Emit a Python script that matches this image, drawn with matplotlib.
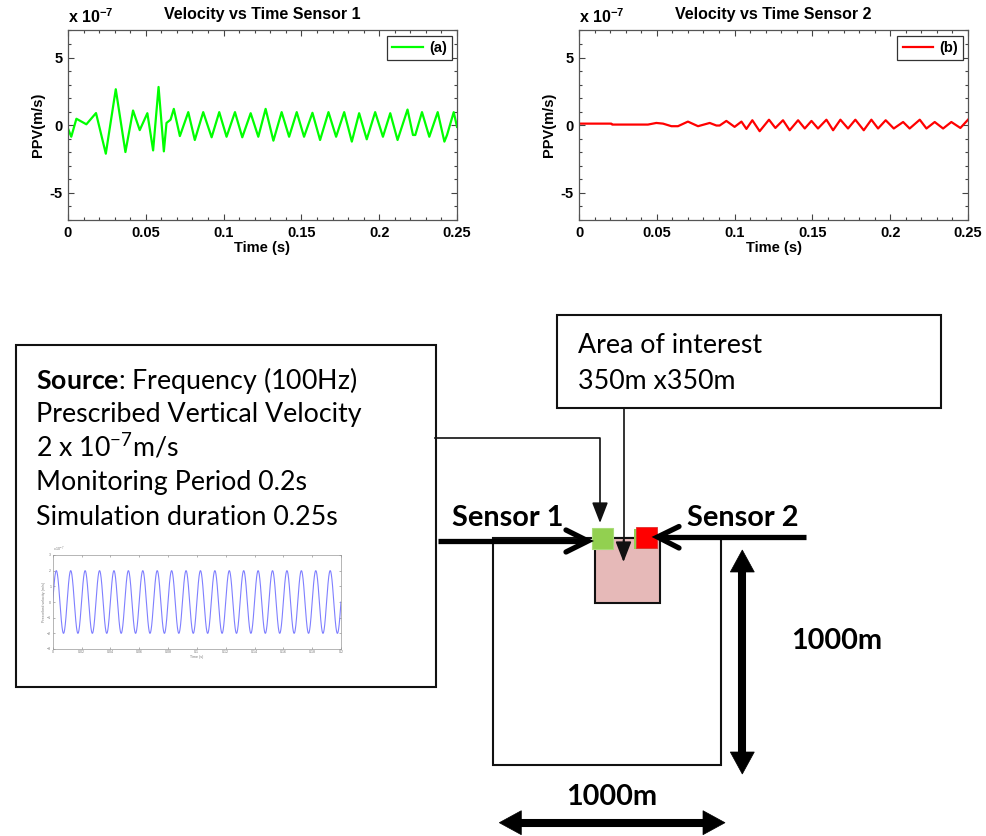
import numpy as np
import matplotlib
matplotlib.use('Agg')
import matplotlib.pyplot as plt
from matplotlib.patches import Rectangle, Polygon
from matplotlib.ticker import MultipleLocator

plt.rcParams.update({
    'font.family': ['Liberation Sans', 'DejaVu Sans'],
    'mathtext.fontset': 'custom',
    'mathtext.rm': 'Lato',
    'mathtext.bf': 'Lato:bold',
    'mathtext.default': 'regular',
})

# -- Sensor records (PPV in units of 1e-7 m/s) --------------------------------
t1 = [0, 0.0021, 0.0054, 0.0118, 0.018, 0.0243, 0.0307, 0.0369, 0.0418, 0.0461,
      0.051, 0.0547, 0.0582, 0.0616, 0.0633, 0.0659, 0.068, 0.0719, 0.0773, 0.0815,
      0.0869, 0.0923, 0.0972, 0.1019, 0.1073, 0.112, 0.1174, 0.1223, 0.127, 0.132,
      0.1373, 0.1421, 0.147, 0.1517, 0.1571, 0.162, 0.1674, 0.1723, 0.1775, 0.1824,
      0.1871, 0.192, 0.1974, 0.2024, 0.2071, 0.2118, 0.2182, 0.2217, 0.2232, 0.2275,
      0.2322, 0.2376, 0.2419, 0.2436, 0.2479, 0.25]
v1 = [-0.24, -0.85, 0.48, 0.07, 0.9, -2.1, 2.66, -1.98, 1.09, -0.36,
      0.89, -1.86, 2.83, -1.93, 0.17, 0.41, 1.21, -0.8, 0.97, -1.09,
      0.97, -0.89, 0.97, -0.85, 0.97, -0.89, 0.89, -0.85, 1.21, -1.14,
      0.97, -0.85, 0.97, -0.85, 0.92, -1.09, 0.97, -0.85, 0.97, -1.21,
      0.89, -1.04, 0.97, -0.85, 0.89, -1.09, 1.16, -0.72, -0.72, 0.97,
      -0.85, 0.97, -1.21, -0.72, 0.97, -0.12]

t2 = [0, 0.0208, 0.0213, 0.0443, 0.0497, 0.054, 0.0594, 0.0636, 0.07, 0.0765,
      0.084, 0.0883, 0.0904, 0.0947, 0.1, 0.1044, 0.1076, 0.1114, 0.1161, 0.1221,
      0.1262, 0.1311, 0.1354, 0.1408, 0.1451, 0.1494, 0.1536, 0.159, 0.1633, 0.168,
      0.1729, 0.1776, 0.183, 0.1879, 0.1922, 0.1971, 0.2023, 0.2083, 0.2125, 0.219,
      0.2233, 0.2286, 0.234, 0.2393, 0.2451, 0.25]
v2 = [0.12, 0.12, 0.05, 0.05, 0.17, 0.12, -0.07, -0.07, 0.27, -0.07,
      0.17, -0.02, -0.02, 0.32, -0.12, 0.27, -0.27, 0.37, -0.44, 0.41,
      -0.2, 0.37, -0.37, 0.37, -0.24, 0.32, -0.24, 0.41, -0.37, 0.41,
      -0.24, 0.41, -0.37, 0.41, -0.24, 0.37, -0.24, 0.24, -0.24, 0.41,
      -0.24, 0.24, -0.24, 0.24, -0.2, 0.41]

x_ticks = [0, 0.05, 0.1, 0.15, 0.2, 0.25]
x_ticklabels = ['0', '0.05', '0.1', '0.15', '0.2', '0.25']
y_ticks = [-5, 0, 5]
y_ticklabels = ['-5', '0', '5']

# prescribed source signal
source_freq = 100.0      # Hz
source_amp = 2.0         # x 1e-7 m/s
source_period = 0.2      # s
src_t = np.linspace(0, source_period, 2000)
src_v = source_amp * np.sin(2 * np.pi * source_freq * src_t)

W, H = 986, 836
fig = plt.figure(figsize=(W / 100, H / 100), dpi=100)


def px_axes(x0, y0, x1, y1):
    return fig.add_axes([x0 / W, 1 - y1 / H, (x1 - x0) / W, (y1 - y0) / H])


def sensor_plot(ax, t, v, color, label, title):
    ax.plot(t, v, color=color, lw=1.6, label=label)
    ax.set_xlim(0, 0.25)
    ax.set_ylim(-7, 7)
    ax.set_xticks(x_ticks)
    ax.set_xticklabels(x_ticklabels, fontweight='bold', fontsize=10.5)
    ax.set_yticks(y_ticks)
    ax.set_yticklabels(y_ticklabels, fontweight='bold', fontsize=10.5)
    ax.xaxis.set_minor_locator(MultipleLocator(0.01))
    ax.yaxis.set_minor_locator(MultipleLocator(1))
    ax.tick_params(which='both', direction='in', top=True, right=True,
                   color='#444444', width=0.8)
    ax.tick_params(which='major', length=4, pad=4)
    ax.tick_params(which='minor', length=2.5)
    for s in ax.spines.values():
        s.set_color('#555555')
        s.set_linewidth(0.9)
    ax.set_title(title, fontweight='bold', fontsize=11.5, pad=8)
    ax.set_xlabel('Time (s)', fontweight='bold', fontsize=10.5, labelpad=1)
    ax.set_ylabel('PPV(m/s)', fontweight='bold', fontsize=10.5, labelpad=3)
    ax.text(0.0, 1.025, r'x 10$^{-7}$', transform=ax.transAxes, fontsize=11.5,
            fontweight='bold', va='bottom', ha='left')
    leg = ax.legend(loc='upper right', fancybox=False, framealpha=1,
                    edgecolor='#333333', handlelength=2.1, borderaxespad=0.35,
                    handletextpad=0.4, borderpad=0.35,
                    prop={'weight': 'bold', 'size': 10.5})
    leg.get_frame().set_linewidth(0.9)


ax1 = px_axes(68, 30.5, 457, 220)
sensor_plot(ax1, t1, v1, '#00ff00', '(a)', 'Velocity vs Time Sensor 1')
ax2 = px_axes(579, 30.5, 968, 220)
sensor_plot(ax2, t2, v2, '#ff0000', '(b)', 'Velocity vs Time Sensor 2')

# -- Model layout sketch (pixel coordinates) -----------------------------------
d = fig.add_axes([0, 0, 1, 1], zorder=-1)
d.set_xlim(0, W)
d.set_ylim(H, 0)
d.axis('off')

body = dict(family=['Lato', 'DejaVu Sans'], fontsize=19.3, color='black')
bold = dict(family=['Lato', 'DejaVu Sans'], fontsize=20.8, fontweight='bold',
            color='black')
k = '#111111'

# source description box
d.add_patch(Rectangle((16, 345), 419.5, 342, fill=False, ec=k, lw=1.5))
d.text(36, 389, r'$\mathbf{Source}$: Frequency (100Hz)', va='baseline', **body)
d.text(36, 422, 'Prescribed Vertical Velocity', va='baseline', **body)
d.text(36, 456, r'2 x 10$^{-7}$m/s', va='baseline', **body)
d.text(36, 490, 'Monitoring Period 0.2s', va='baseline', **body)
d.text(36, 525, 'Simulation duration 0.25s', va='baseline', **body)

# area of interest box
d.add_patch(Rectangle((557, 315), 384, 93, fill=False, ec=k, lw=1.5))
d.text(578, 353, 'Area of interest', va='baseline', **body)
d.text(578, 389, '350m x350m', va='baseline', **body)

# model domain and area of interest
d.add_patch(Rectangle((493, 538), 227.5, 227, fill=False, ec=k, lw=1.5))
d.add_patch(Rectangle((594.5, 538), 65, 65, fc='#e6b9b8', ec=k, lw=1.5))

# callout lines
d.plot([435, 600, 600], [437.5, 437.5, 510], color=k, lw=1.2)
d.annotate('', xy=(600, 523), xytext=(600, 505),
           arrowprops=dict(arrowstyle='-|>,head_length=0.9,head_width=0.35',
                           color=k, lw=1.2, shrinkA=0, shrinkB=0,
                           mutation_scale=14))
d.plot([623.5, 623.5], [408, 545], color=k, lw=1.2)
d.annotate('', xy=(623.5, 562), xytext=(623.5, 540),
           arrowprops=dict(arrowstyle='-|>,head_length=0.9,head_width=0.35',
                           color=k, lw=1.2, shrinkA=0, shrinkB=0,
                           mutation_scale=14))

# sensors
d.add_patch(Rectangle((592, 527.5), 21, 21, fc='#92d050', ec='#a8dc78', lw=0.8))
d.add_patch(Rectangle((634, 528.5), 21.5, 20.5, fc='#92d050', ec='none'))
d.add_patch(Rectangle((636, 526.7), 21, 21, fc='#ff0000', ec='#e03030', lw=0.6))

# sensor pointers with open heads
d.plot([438, 586], [541, 541], color='black', lw=3.8, solid_capstyle='butt')
d.plot([566, 588, 566], [530, 541, 552], color='black', lw=3.8,
       solid_capstyle='round', solid_joinstyle='miter')
d.plot([806, 660], [537, 537], color='black', lw=3.8, solid_capstyle='butt')
d.plot([679, 657.5, 679], [526.5, 537, 548], color='black', lw=3.8,
       solid_capstyle='round', solid_joinstyle='miter')
d.text(452, 526, 'Sensor 1', va='baseline', **bold)
d.text(687, 526, 'Sensor 2', va='baseline', **bold)


def double_arrow(p0, p1, head_len=22, head_w=12, shaft=5.8):
    p0, p1 = np.asarray(p0, float), np.asarray(p1, float)
    u = (p1 - p0) / np.hypot(*(p1 - p0))
    n = np.array([-u[1], u[0]])
    a, b = p0 + u * head_len, p1 - u * head_len
    d.plot([a[0], b[0]], [a[1], b[1]], color='black', lw=shaft,
           solid_capstyle='butt')
    d.add_patch(Polygon([p0, a + n * head_w, a - n * head_w], closed=True,
                        fc='black', ec='black', lw=0.5))
    d.add_patch(Polygon([p1, b + n * head_w, b - n * head_w], closed=True,
                        fc='black', ec='black', lw=0.5))


double_arrow((742.3, 550), (742.3, 774))
double_arrow((499.3, 822.7), (725, 822.7))
d.text(791, 649.3, '1000m', va='baseline', **bold)
d.text(566, 805, '1000m', va='baseline', **bold)

# small copy of the prescribed source signal
ins = px_axes(52.7, 555, 341, 649)
ins.plot(src_t, src_v, color='#7f7fff', lw=0.8)
ins.set_xlim(0, source_period)
ins.set_ylim(-3, 3)
ins.set_xticks(np.round(np.arange(0, 0.201, 0.02), 2))
ins.set_xticklabels(['0', '0.02', '0.04', '0.06', '0.08', '0.1', '0.12',
                     '0.14', '0.16', '0.18', '0.2'])
ins.set_yticks([-3, -2, -1, 0, 1, 2, 3])
ins.tick_params(labelsize=2.6, length=1.2, width=0.4, pad=1, direction='in',
                top=True, right=True, colors='#777777')
for s in ins.spines.values():
    s.set_color('#999999')
    s.set_linewidth(0.5)
ins.set_xlabel('Time (s)', fontsize=2.6, labelpad=0.5, color='#777777')
ins.set_ylabel('Prescribed velocity (m/s)', fontsize=2.6, labelpad=0.5,
               color='#777777')
ins.text(0.0, 1.01, r'x 10$^{-7}$', transform=ins.transAxes, fontsize=2.6,
         color='#777777', va='bottom')

fig.savefig('out.png', dpi=100)
